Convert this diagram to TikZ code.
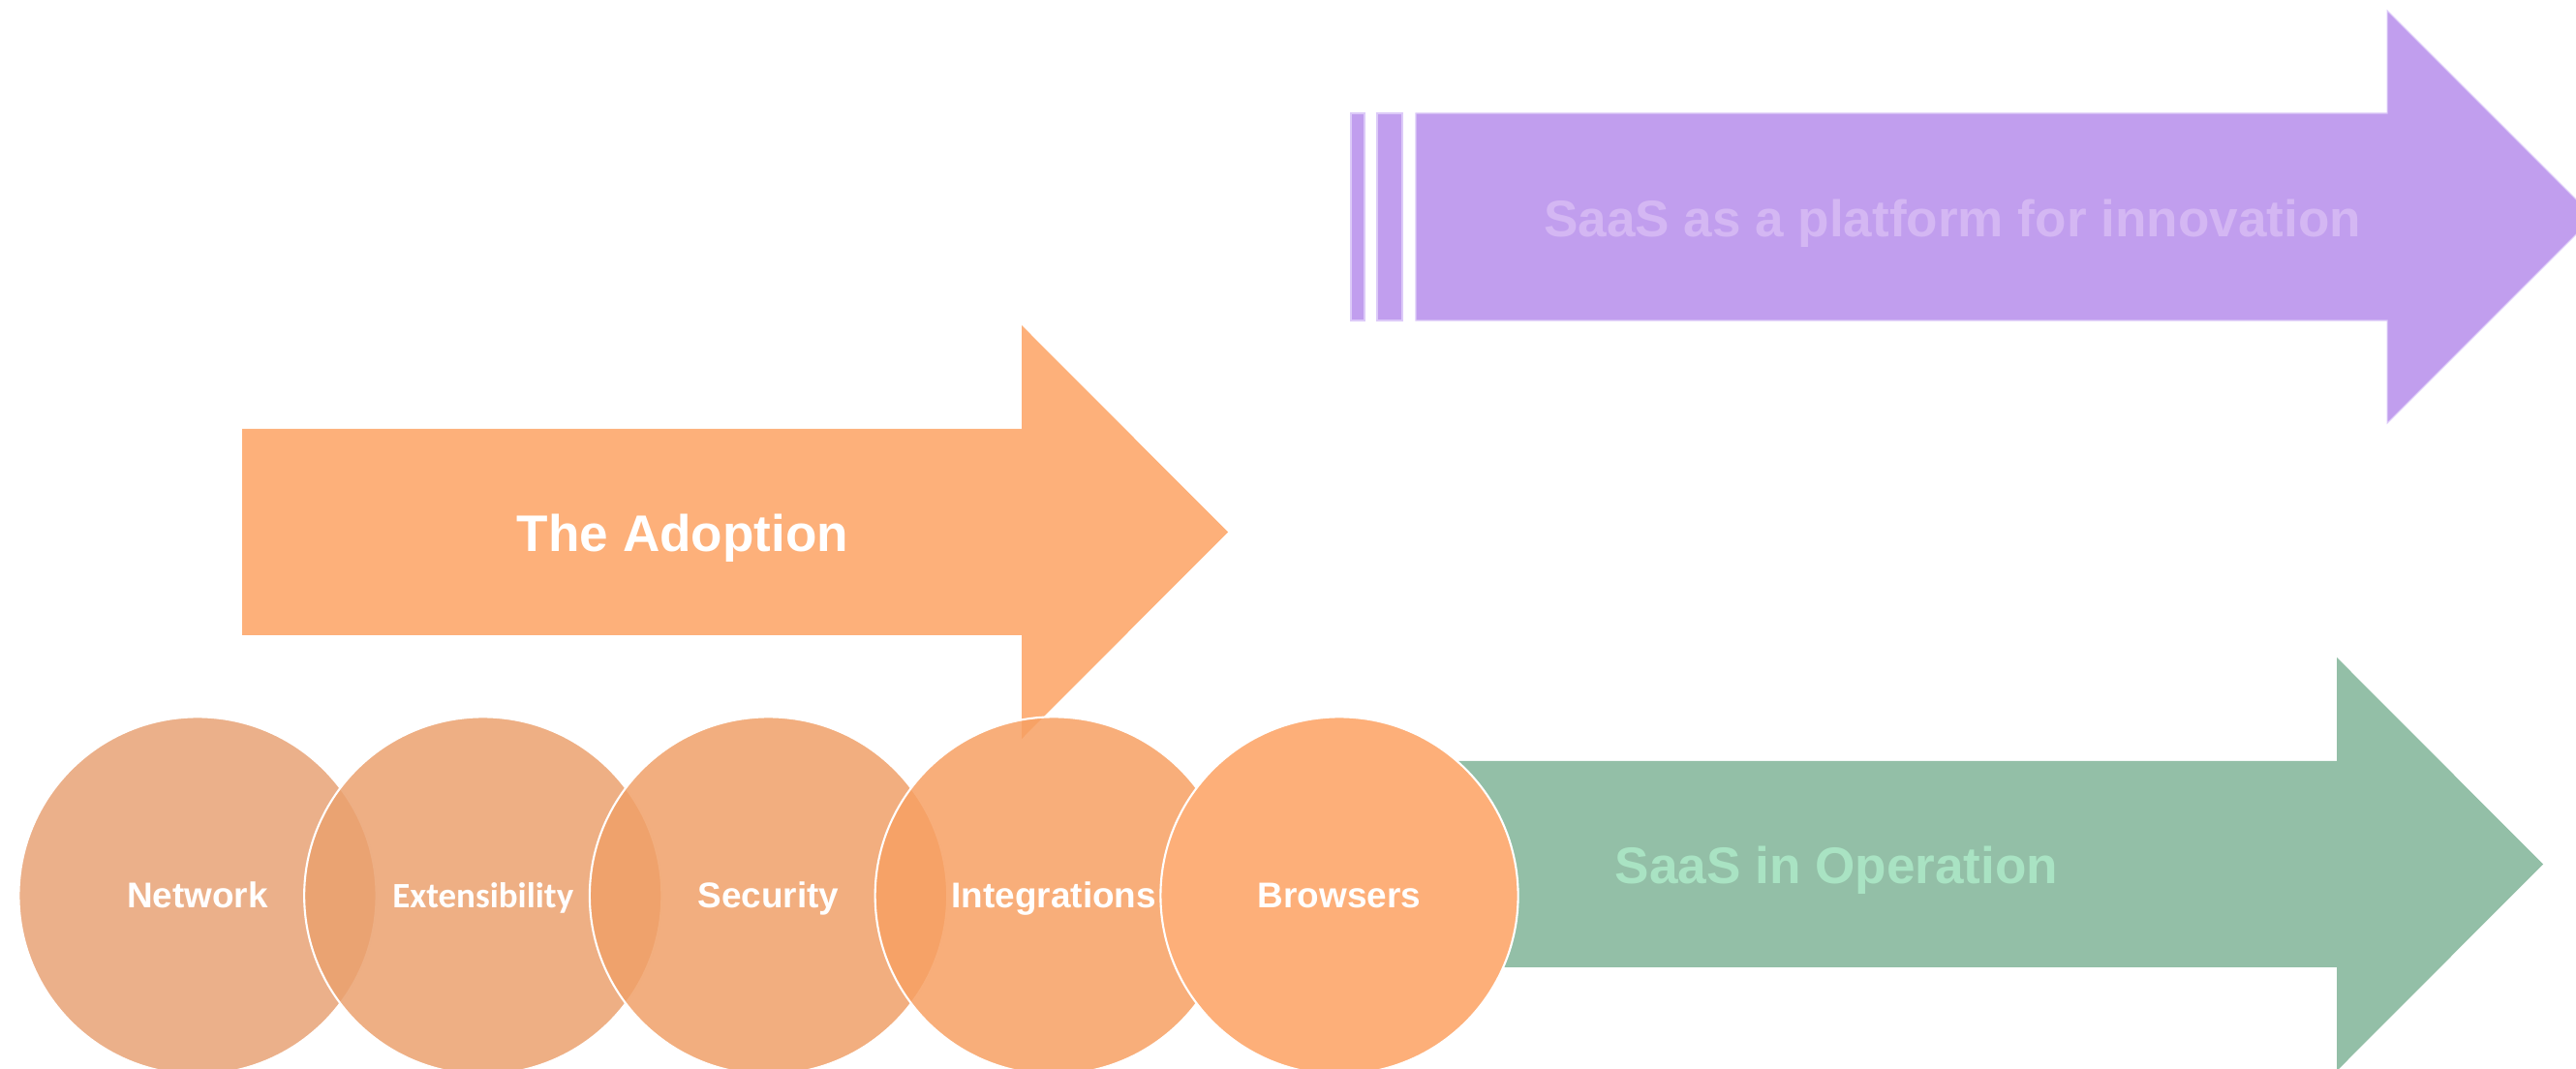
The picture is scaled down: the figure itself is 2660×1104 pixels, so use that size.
\documentclass[tikz,border=0pt]{standalone}
\usepackage{fontspec}
\setmainfont{Liberation Sans}
\newfontfamily\carlitofont{Carlito}

\definecolor{adoptfill}{HTML}{FDB07A}
\definecolor{innovfill}{HTML}{C19EEE}
\definecolor{innovedge}{HTML}{DCCAF8}
\definecolor{innovtext}{HTML}{D4B7F3}
\definecolor{operfill}{HTML}{93BFA7}
\definecolor{opertext}{HTML}{A9E3C3}
\definecolor{circA}{HTML}{E8A275}
\definecolor{circB}{HTML}{EBA16F}
\definecolor{circC}{HTML}{F0A068}
\definecolor{circD}{HTML}{F7A063}
\definecolor{circE}{HTML}{FDAF79}

\begin{document}
\begin{tikzpicture}[x=0.01cm, y=-0.01cm,
  arrowtext/.style={font=\bfseries\fontsize{15.1}{18}\selectfont, inner sep=0pt, anchor=base},
  disc/.style={circle, minimum size=3.69cm, inner sep=0pt, draw=white, line width=0.6pt,
               fill opacity=0.85, text opacity=1},
  disclabel/.style={font=\bfseries\fontsize{10.5}{12}\selectfont, text=white, inner sep=0pt,
                    anchor=base, yshift=-0.12cm}]

\clip (0,0) rectangle (2660,1104);

% top arrow: SaaS as a platform for innovation
\begin{scope}[fill=innovfill, draw=innovedge, line width=0.3pt]
  \filldraw (1395,117) rectangle (1409,331);
  \filldraw (1422,117) rectangle (1448,331);
  \filldraw (1462,117) -- (2465,117) -- (2465,11) -- (2678,224) -- (2465,437)
            -- (2465,331) -- (1462,331) -- cycle;
\end{scope}
\node[arrowtext, text=innovtext] (innov) at (2016,245) {SaaS as a platform for innovation};

% middle arrow: The Adoption
\fill[adoptfill] (250,443) -- (1055,443) -- (1055,336) -- (1268,549.5) -- (1055,763)
      -- (1055,656) -- (250,656) -- cycle;
\node[arrowtext, text=white] (adopt) at (705,570) {The Adoption};

% bottom arrow: SaaS in Operation
\fill[operfill] (1400,786) -- (2413,786) -- (2413,679) -- (2626,892.5) -- (2413,1106)
      -- (2413,999) -- (1400,999) -- cycle;
\node[arrowtext, text=opertext, anchor=base west] (oper) at (1667,913) {SaaS in Operation};

% row of overlapping discs
\node[disc, fill=circA] (d1) at (204,925) {};
\node[disclabel] (t1) at (d1.center) {Network};
\node[disc, fill=circB] (d2) at (498.75,925) {};
\node[disclabel, font=\carlitofont\bfseries\fontsize{10.5}{12}\selectfont] (t2) at (d2.center) {Extensibility};
\node[disc, fill=circC] (d3) at (793.5,925) {};
\node[disclabel] (t3) at (d3.center) {Security};
\node[disc, fill=circD] (d4) at (1088.25,925) {};
\node[disclabel] (t4) at (d4.center) {Integrations};
\node[disc, fill=circE, fill opacity=1] (d5) at (1383,925) {};
\node[disclabel] (t5) at (d5.center) {Browsers};

\end{tikzpicture}
\end{document}
